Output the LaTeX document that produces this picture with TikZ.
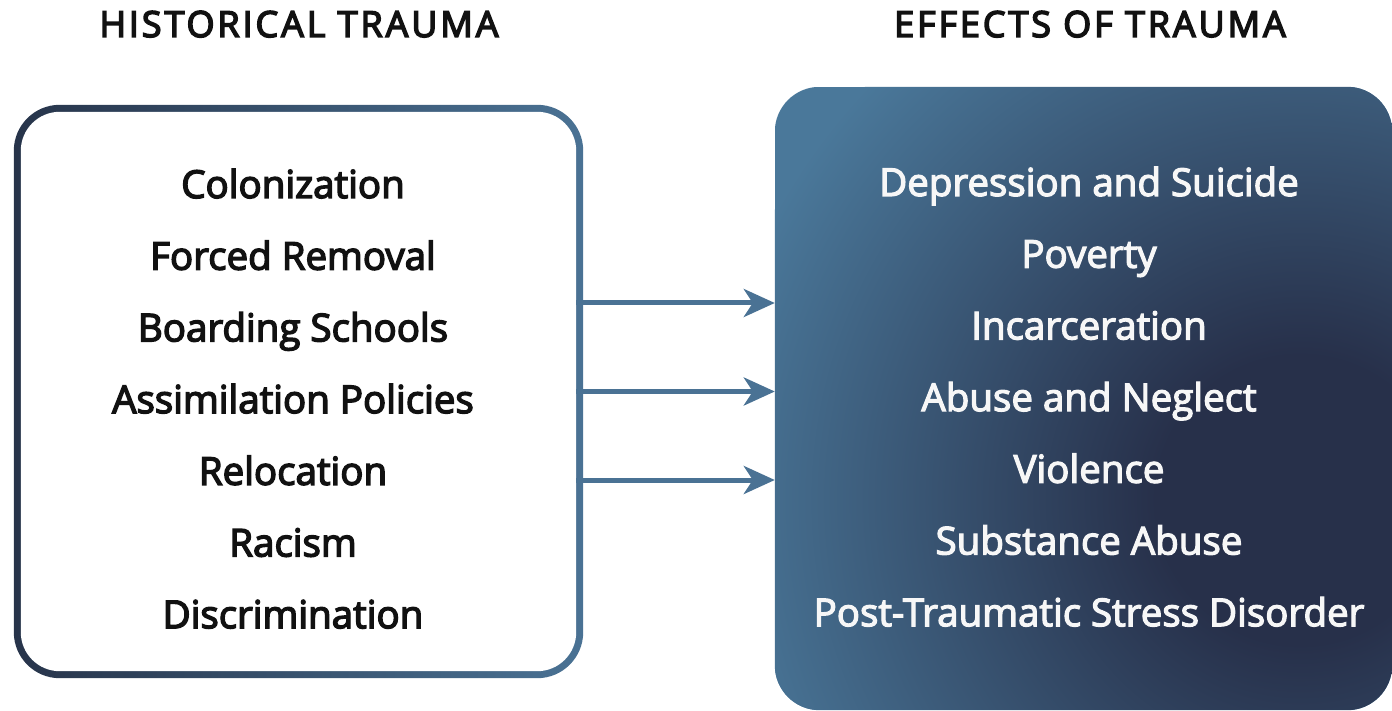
\documentclass[tikz,border=0pt]{standalone}
\usepackage{fontspec}
\setmainfont{Open Sans}
\usetikzlibrary{arrows.meta}

% thicken glyph outlines by stroking them as well as filling them
\newcommand\thicktext[2]{%
  \special{pdf:literal direct 2 Tr #1 w}#2\special{pdf:literal direct 0 Tr 1 w}}

\definecolor{navy}{HTML}{27344A}
\definecolor{steel}{HTML}{4A7294}
\definecolor{efflight}{HTML}{4A789A}
\definecolor{effdark}{HTML}{27304A}
\definecolor{ink}{HTML}{111111}
\definecolor{paper}{HTML}{F7F7F7}

% dark core fading outwards into the lighter steel blue
\pgfdeclareradialshading{effglow}{\pgfpointorigin}{%
  color(0bp)=(effdark); color(6bp)=(effdark); color(25bp)=(efflight); color(50bp)=(efflight)}

\tikzset{
  header/.style={font=\addfontfeatures{LetterSpace=8}\fontsize{36}{40}\selectfont,
    text=ink, anchor=base, inner sep=0},
  cause/.style={font=\fontsize{38.5}{44}\selectfont, text=ink, anchor=base, inner sep=0},
  effect/.style={font=\fontsize{38.5}{44}\selectfont, text=paper, anchor=base, inner sep=0},
  panel/.style={inner sep=0, draw=none},
  flow/.style={draw=steel, line width=5pt,
    -{Stealth[length=31pt, width=28pt, inset=9pt]}},
}

\begin{document}
\begin{tikzpicture}[x=1pt, y=-1pt]
\useasboundingbox (0,0) rectangle (1392,711);

% column headers
\node[header] (h1) at (299,37) {\thicktext{1.5}{HISTORICAL TRAUMA}};
\node[header] (h2) at (1090,37) {\thicktext{1.5}{EFFECTS OF TRAUMA}};

% left panel: white card with a navy-to-steel rim
\node[panel, minimum width=555pt, minimum height=559pt] (hist) at (298.5,391.5) {};
\shade[left color=navy, right color=steel, rounded corners=46pt]
  ([xshift=-7pt, yshift=7pt]hist.north west) rectangle ([xshift=7pt, yshift=-7pt]hist.south east);
\fill[white, rounded corners=39pt] (hist.north west) rectangle (hist.south east);

% right panel: shaded card
\node[panel, minimum width=617pt, minimum height=623pt] (eff) at (1083.5,398.5) {};
\begin{scope}
  \clip[rounded corners=45pt] (eff.north west) rectangle (eff.south east);
  \fill[efflight] (eff.north west) rectangle (eff.south east);
  \shade[shading=effglow] (1300,500) circle (600pt);
\end{scope}

% causes
\foreach \t [count=\i from 0] in {Colonization, Forced Removal, Boarding Schools,
    Assimilation Policies, Relocation, Racism, Discrimination}
  \node[cause] (c\i) at (293, 198+71.7*\i) {\thicktext{1.4}{\t}};

% effects
\foreach \t [count=\i from 0] in {Depression and Suicide, Poverty, Incarceration,
    Abuse and Neglect, Violence, Substance Abuse, Post-Traumatic Stress Disorder}
  \node[effect] (e\i) at (1089, 196+71.7*\i) {\thicktext{1.2}{\t}};

% arrows between the panels
\coordinate (a1) at ([yshift=88.5pt]hist.east);
\coordinate (a2) at (hist.east);
\coordinate (a3) at ([yshift=-88.5pt]hist.east);
\foreach \a in {a1,a2,a3}
  \draw[flow] (\a) -- (\a -| eff.west);
\end{tikzpicture}
\end{document}
